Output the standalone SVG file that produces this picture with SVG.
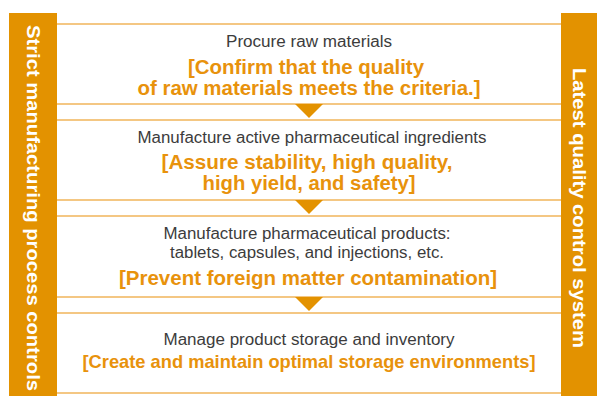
<svg xmlns="http://www.w3.org/2000/svg" width="597" height="396" viewBox="0 0 597 396">
<style>
.bar{fill:#e39200}
.bartxt{font-family:"Liberation Sans",Arial,sans-serif;font-weight:bold;font-size:18px;fill:#ffffff;text-anchor:middle}
.ln{stroke:#f0b55a;stroke-width:1.5;fill:none}
.tri{fill:#e39200}
.t1{font-family:"Liberation Sans",Arial,sans-serif;font-size:16px;fill:#3c3c3c;text-anchor:middle}
.t2{font-family:"Liberation Sans",Arial,sans-serif;font-weight:bold;font-size:20px;fill:#e8920c;text-anchor:middle}
</style>
<rect width="597" height="396" fill="#ffffff"/>
<g id="left-bar">
<rect class="bar" x="9" y="13" width="48" height="383"/>
<text class="bartxt" transform="translate(27,208) rotate(90)" textLength="366" lengthAdjust="spacingAndGlyphs">Strict manufacturing process controls</text>
</g>
<g id="right-bar">
<rect class="bar" x="561" y="13" width="36" height="383"/>
<text class="bartxt" transform="translate(573,208) rotate(90)" textLength="280" lengthAdjust="spacingAndGlyphs">Latest quality control system</text>
</g>
<g id="step1">
<line class="ln" x1="57" y1="24" x2="561" y2="24"/>
<line class="ln" x1="57" y1="104" x2="561" y2="104"/>
<text class="t1" x="309" y="47" textLength="166" lengthAdjust="spacingAndGlyphs">Procure raw materials</text>
<text class="t2" x="306" y="74" textLength="236" lengthAdjust="spacingAndGlyphs">[Confirm that the quality</text>
<text class="t2" x="309" y="95" textLength="343" lengthAdjust="spacingAndGlyphs">of raw materials meets the criteria.]</text>
</g>
<g id="step2">
<line class="ln" x1="57" y1="120" x2="561" y2="120"/>
<line class="ln" x1="57" y1="200" x2="561" y2="200"/>
<text class="t1" x="312" y="143" textLength="349" lengthAdjust="spacingAndGlyphs">Manufacture active pharmaceutical ingredients</text>
<text class="t2" x="307" y="169" textLength="291" lengthAdjust="spacingAndGlyphs">[Assure stability, high quality,</text>
<text class="t2" x="309" y="190" textLength="213" lengthAdjust="spacingAndGlyphs">high yield, and safety]</text>
</g>
<g id="step3">
<line class="ln" x1="57" y1="216" x2="561" y2="216"/>
<line class="ln" x1="57" y1="297" x2="561" y2="297"/>
<text class="t1" x="307" y="239" textLength="287" lengthAdjust="spacingAndGlyphs">Manufacture pharmaceutical products:</text>
<text class="t1" x="307" y="258" textLength="274" lengthAdjust="spacingAndGlyphs">tablets, capsules, and injections, etc.</text>
<text class="t2" x="308" y="285" textLength="378" lengthAdjust="spacingAndGlyphs">[Prevent foreign matter contamination]</text>
</g>
<g id="step4">
<line class="ln" x1="57" y1="313" x2="561" y2="313"/>
<line class="ln" x1="57" y1="393" x2="561" y2="393"/>
<text class="t1" x="309" y="345" textLength="291" lengthAdjust="spacingAndGlyphs">Manage product storage and inventory</text>
<text class="t2" x="309" y="368" style="font-size:19px" textLength="453" lengthAdjust="spacingAndGlyphs">[Create and maintain optimal storage environments]</text>
</g>
<g id="connectors">
<polygon class="tri" points="295,104 323,104 309,118"/>
<polygon class="tri" points="295,200 323,200 309,214"/>
<polygon class="tri" points="295,297 323,297 309,311"/>
</g>
</svg>
